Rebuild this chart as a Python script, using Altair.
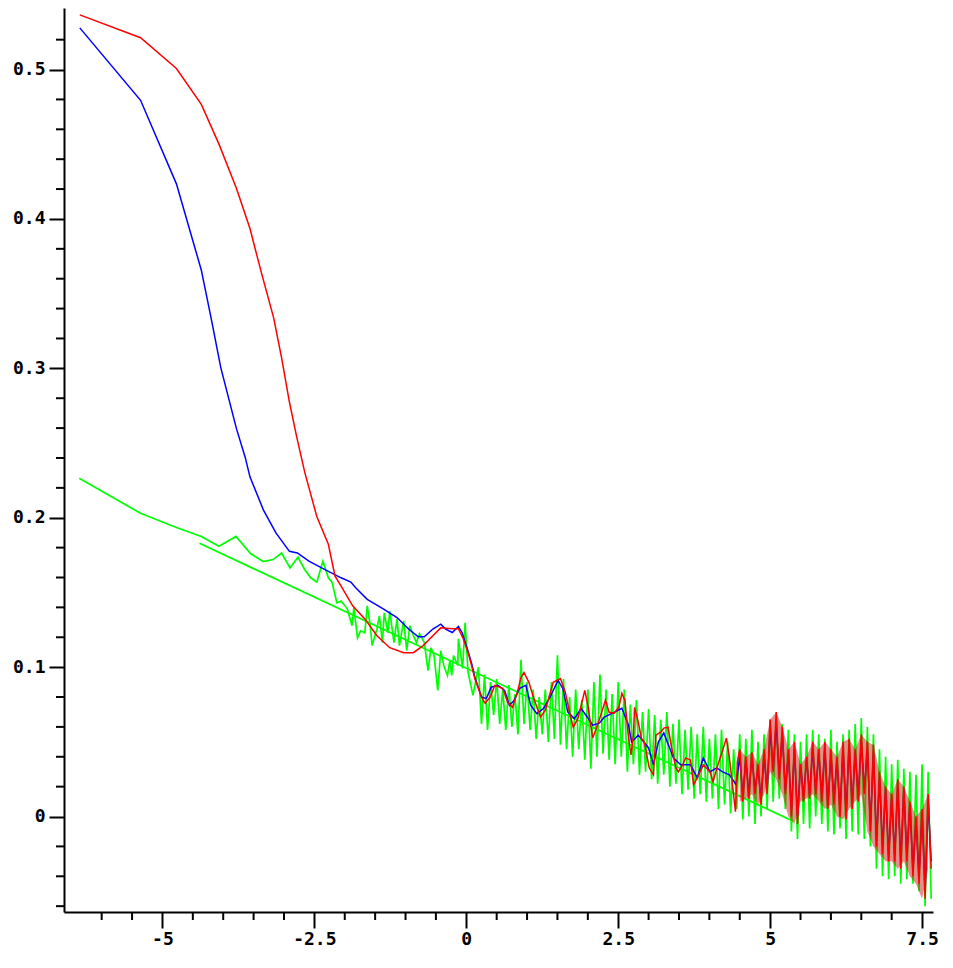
import altair as alt
import pandas as pd

# ---------------- data ----------------
red_x = [-6.36,-5.36,-4.77,-4.36,-4.07,-3.78,-3.56,-3.37,-3.17,-3.04,-2.91,-2.79,-2.66,-2.46,-2.27,-2.16,-2.06,-1.87,-1.67,-1.47,
         -1.26,-1.03,-0.87,-0.71,-0.55,-0.42,-0.23,-0.13,-0.05,0.03,0.10,0.14,0.26,0.31,0.39,0.47,0.60,0.68,0.76,0.84,
         0.90,0.95,1.03,1.11,1.22,1.30,1.43,1.55,1.63,1.71,1.76,1.84,1.95,2.00,2.08,2.16,2.29,2.35,2.43,2.51,
         2.56,2.61,2.67,2.71,2.75,2.77,2.83,2.88,2.93,3.01,3.08,3.12,3.20,3.25,3.32,3.37,3.45,3.49,3.56,3.61,
         3.69,3.74,3.80,3.90,4.01,4.06,4.14,4.22,4.28,4.33,4.38,4.43,4.46]
red_y = [0.5366,0.5213,0.5007,0.4767,0.4501,0.4202,0.3936,0.3637,0.3338,0.3072,0.2773,0.2540,0.2307,0.2008,0.1822,0.1609,0.1543,0.1410,0.1323,0.1210,
         0.1130,0.1097,0.1097,0.1144,0.1210,0.1263,0.1257,0.1257,0.1190,0.1097,0.0991,0.0924,0.0791,0.0758,0.0798,0.0878,0.0858,0.0765,0.0731,0.0831,
         0.0931,0.0964,0.0898,0.0791,0.0665,0.0711,0.0898,0.0924,0.0831,0.0678,0.0598,0.0658,0.0844,0.0745,0.0525,0.0612,0.0778,0.0698,0.0691,0.0731,
         0.0824,0.0778,0.0525,0.0412,0.0545,0.0731,0.0632,0.0525,0.0499,0.0326,0.0279,0.0545,0.0565,0.0592,0.0598,0.0479,0.0326,0.0299,0.0346,0.0392,
         0.0379,0.0213,0.0259,0.0346,0.0299,0.0233,0.0346,0.0445,0.0525,0.0392,0.0213,0.0033,0.0366]

blue_x = [-6.36,-5.36,-4.77,-4.36,-4.20,-4.04,-3.78,-3.64,-3.56,-3.34,-3.13,-2.91,-2.78,-2.59,-2.38,-2.22,-2.06,-1.90,-1.82,-1.63,
          -1.36,-1.14,-0.95,-0.79,-0.69,-0.55,-0.42,-0.34,-0.23,-0.13,-0.07,0.01,0.09,0.14,0.25,0.33,0.41,0.52,0.63,0.71,
          0.79,0.87,0.98,1.06,1.16,1.27,1.38,1.51,1.59,1.67,1.78,1.89,1.97,2.08,2.19,2.27,2.40,2.56,2.67,2.72,
          2.83,3.00,3.08,3.16,3.25,3.41,3.53,3.69,3.80,3.90,4.01,4.12,4.22,4.33,4.44]
blue_y = [0.5279,0.4794,0.4235,0.3657,0.3338,0.3005,0.2593,0.2407,0.2274,0.2053,0.1897,0.1775,0.1764,0.1709,0.1664,0.1631,0.1598,0.1569,0.1531,0.1454,
          0.1388,0.1332,0.1255,0.1203,0.1203,0.1255,0.1288,0.1255,0.1232,0.1272,0.1232,0.1132,0.1022,0.0933,0.0800,0.0789,0.0866,0.0878,0.0844,0.0745,
          0.0778,0.0856,0.0878,0.0745,0.0689,0.0723,0.0800,0.0911,0.0856,0.0700,0.0656,0.0723,0.0678,0.0612,0.0625,0.0665,0.0691,0.0725,0.0612,0.0499,
          0.0545,0.0459,0.0346,0.0499,0.0559,0.0392,0.0346,0.0346,0.0259,0.0392,0.0299,0.0326,0.0299,0.0279,0.0213]

# noisy band of red / blue, x = 4.5 ... 7.6 step 0.1 : high and low values
band_x = [round(4.5 + 0.1 * i, 2) for i in range(32)]
red_hi = [0.045,0.040,0.043,0.035,0.045,0.065,0.070,0.060,0.045,0.050,0.035,0.040,0.050,0.045,0.050,0.045,
          0.040,0.050,0.052,0.045,0.055,0.050,0.048,0.030,0.020,0.015,0.025,0.020,0.010,0.000,0.005,0.015]
red_lo = [0.010,0.012,0.015,0.008,0.015,0.030,0.025,0.015,0.000,-0.005,0.010,0.012,0.015,0.010,0.005,0.008,
          0.000,-0.002,0.005,0.010,0.015,-0.010,-0.020,-0.025,-0.030,-0.030,-0.035,-0.030,-0.040,-0.045,-0.055,-0.035]
blue_hi = [0.040,0.038,0.040,0.032,0.040,0.058,0.062,0.055,0.042,0.045,0.035,0.038,0.045,0.042,0.045,0.040,
           0.038,0.045,0.048,0.042,0.050,0.045,0.042,0.025,0.018,0.012,0.020,0.018,0.008,-0.002,0.002,0.010]
blue_lo = [0.014,0.015,0.018,0.012,0.018,0.032,0.028,0.018,0.004,0.000,0.014,0.015,0.018,0.014,0.008,0.012,
           0.004,0.002,0.008,0.014,0.018,-0.006,-0.016,-0.020,-0.026,-0.026,-0.030,-0.026,-0.036,-0.040,-0.050,-0.030]

green_x = [-6.37,-5.36,-4.77,-4.36,-4.07,-3.79,-3.55,-3.34,-3.18,-3.04,-2.90,-2.77,-2.66,-2.56,-2.46,-2.36,-2.27,-2.21,-2.13,-2.06,
           -1.96,-1.88,-1.85,-1.79,-1.74,-1.67,-1.63,-1.58,-1.55,-1.47,-1.43,-1.38,-1.35,-1.29,-1.26,-1.19,-1.14,-1.10,-1.03,-0.98,
           -0.93,-0.87,-0.82,-0.77,-0.69,-0.63,-0.58,-0.53,-0.47,-0.42,-0.37,-0.31,-0.27,-0.24,-0.21,-0.14,-0.13,-0.06,-0.02,0.03,0.11]
green_y = [0.2265,0.2030,0.1935,0.1875,0.1809,0.1875,0.1760,0.1707,0.1720,0.1764,0.1664,0.1737,0.1654,0.1598,0.1569,0.1709,0.1598,0.1569,0.1431,0.1443,
           0.1392,0.1277,0.1398,0.1197,0.1243,0.1230,0.1410,0.1277,0.1144,0.1257,0.1343,0.1164,0.1363,0.1230,0.1376,0.1164,0.1323,0.1144,0.1310,0.1110,
           0.1277,0.1210,0.1164,0.1223,0.1164,0.0977,0.1130,0.1077,0.0844,0.1110,0.1011,0.0944,0.1044,0.0944,0.1077,0.1011,0.1190,0.0991,0.1297,0.0964,0.0811]

# noisy green, x = 0.2 ... 7.6 step 0.1
gband_x = [round(0.2 + 0.1 * i, 2) for i in range(75)]
green_hi = [0.100,0.095,0.090,0.092,0.085,0.088,0.082,0.105,0.090,0.085,
            0.080,0.085,0.090,0.108,0.092,0.080,0.085,0.078,0.085,0.090,
            0.095,0.085,0.082,0.090,0.085,0.075,0.078,0.070,0.072,0.068,
            0.065,0.070,0.062,0.065,0.058,0.060,0.055,0.060,0.052,0.055,
            0.058,0.050,0.045,0.055,0.052,0.058,0.050,0.055,0.065,0.066,
            0.062,0.058,0.055,0.050,0.055,0.058,0.055,0.052,0.058,0.050,
            0.055,0.058,0.062,0.066,0.060,0.055,0.045,0.040,0.035,0.038,
            0.032,0.030,0.028,0.035,0.030]
green_lo = [0.062,0.058,0.068,0.062,0.058,0.060,0.055,0.062,0.058,0.052,
            0.055,0.050,0.052,0.048,0.045,0.040,0.045,0.038,0.032,0.040,
            0.042,0.038,0.035,0.040,0.030,0.035,0.028,0.030,0.025,0.022,
            0.028,0.020,0.022,0.015,0.018,0.012,0.015,0.010,0.012,0.005,
            0.008,0.002,0.005,-0.002,0.000,-0.005,0.000,0.005,0.010,0.012,
            0.005,-0.010,-0.015,-0.005,-0.008,0.000,-0.005,-0.010,-0.012,-0.008,
            -0.015,-0.010,-0.012,-0.015,-0.020,-0.035,-0.040,-0.042,-0.040,-0.045,
            -0.042,-0.045,-0.050,-0.060,-0.055]

trend_x = [-4.39, 5.38]
trend_y = [0.1829, -0.0031]

x_major = [-5, -2.5, 0, 2.5, 5, 7.5]
y_major = [0, 0.1, 0.2, 0.3, 0.4, 0.5]
x_minor = [-6.0, -5.5, -4.5, -4.0, -3.5, -3.0, -2.0, -1.5, -1.0, -0.5, 0.5, 1.0, 1.5, 2.0,
           3.0, 3.5, 4.0, 4.5, 5.5, 6.0, 6.5, 7.0]
y_minor = [-0.06, -0.04, -0.02, 0.02, 0.04, 0.06, 0.08, 0.12, 0.14, 0.16, 0.18, 0.22, 0.24, 0.26,
           0.28, 0.32, 0.34, 0.36, 0.38, 0.42, 0.44, 0.46, 0.48, 0.52]

# ---------------- build tables ----------------
def series(xs, ys, bx=None, hi=None, lo=None):
    pts = list(zip(xs, ys))
    if bx is not None:
        for x, h, l in zip(bx, hi, lo):
            pts.append((x, h))
            pts.append((round(x + 0.05, 3), l))
    return pd.DataFrame({"x": [p[0] for p in pts], "y": [p[1] for p in pts],
                         "i": list(range(len(pts)))})

df_red = series(red_x, red_y, band_x, red_hi, red_lo)
df_blue = series(blue_x, blue_y, band_x, blue_hi, blue_lo)
df_green = series(green_x, green_y, gband_x, green_hi, green_lo)
df_trend = series(trend_x, trend_y)
df_red_band = pd.DataFrame({"x": band_x, "hi": red_hi, "lo": red_lo})

W, H = 869, 904
xs = alt.Scale(domain=[-6.62, 7.68], nice=False, zero=False)
ys = alt.Scale(domain=[-0.0639, 0.5412], nice=False, zero=False)
x_axis = alt.Axis(values=x_major, title=None, labelExpr="toString(datum.value)",
                  tickSize=16, labelPadding=2, grid=False)
y_axis = alt.Axis(values=y_major, title=None, labelExpr="toString(datum.value)",
                  tickSize=15, labelPadding=4, grid=False)

def X(f):
    return alt.X(f, scale=xs, axis=x_axis)

def Y(f):
    return alt.Y(f, scale=ys, axis=y_axis)

def line(df, color, width=1.5):
    return alt.Chart(df).mark_line(color=color, strokeWidth=width, clip=True).encode(
        x=X("x:Q"), y=Y("y:Q"), order="i:Q",
    )

ymin = alt.Chart(pd.DataFrame({"y": y_minor})).mark_rule(color="black", strokeWidth=2).encode(
    y=Y("y:Q"), x=alt.value(-8), x2=alt.value(0))
xmin = alt.Chart(pd.DataFrame({"x": x_minor})).mark_rule(color="black", strokeWidth=2).encode(
    x=X("x:Q"), y=alt.value(H), y2=alt.value(H + 8))

red_band = alt.Chart(df_red_band).mark_area(color="#cc2222", opacity=0.5, clip=True).encode(
    x=X("x:Q"), y=Y("hi:Q"), y2="lo:Q")

chart = alt.layer(
    ymin, xmin,
    line(df_green, "#00ff00", 1.7),
    line(df_trend, "#00ff00", 1.7),
    line(df_blue, "#0000ff", 1.5),
    red_band,
    line(df_red, "#ff0000", 1.5),
).properties(
    width=W, height=H,
    autosize=alt.AutoSizeParams(type="none"),
    padding={"left": 56, "top": 0, "right": 12, "bottom": 40},
).configure_view(stroke=None).configure_axis(
    labelFont="DejaVu Sans Mono", labelFontWeight="bold", labelFontSize=18, labelColor="black",
    tickColor="black", tickWidth=2, domainColor="black", domainWidth=2,
)

chart.save("out.html", embed_options={"renderer": "svg", "actions": False})
